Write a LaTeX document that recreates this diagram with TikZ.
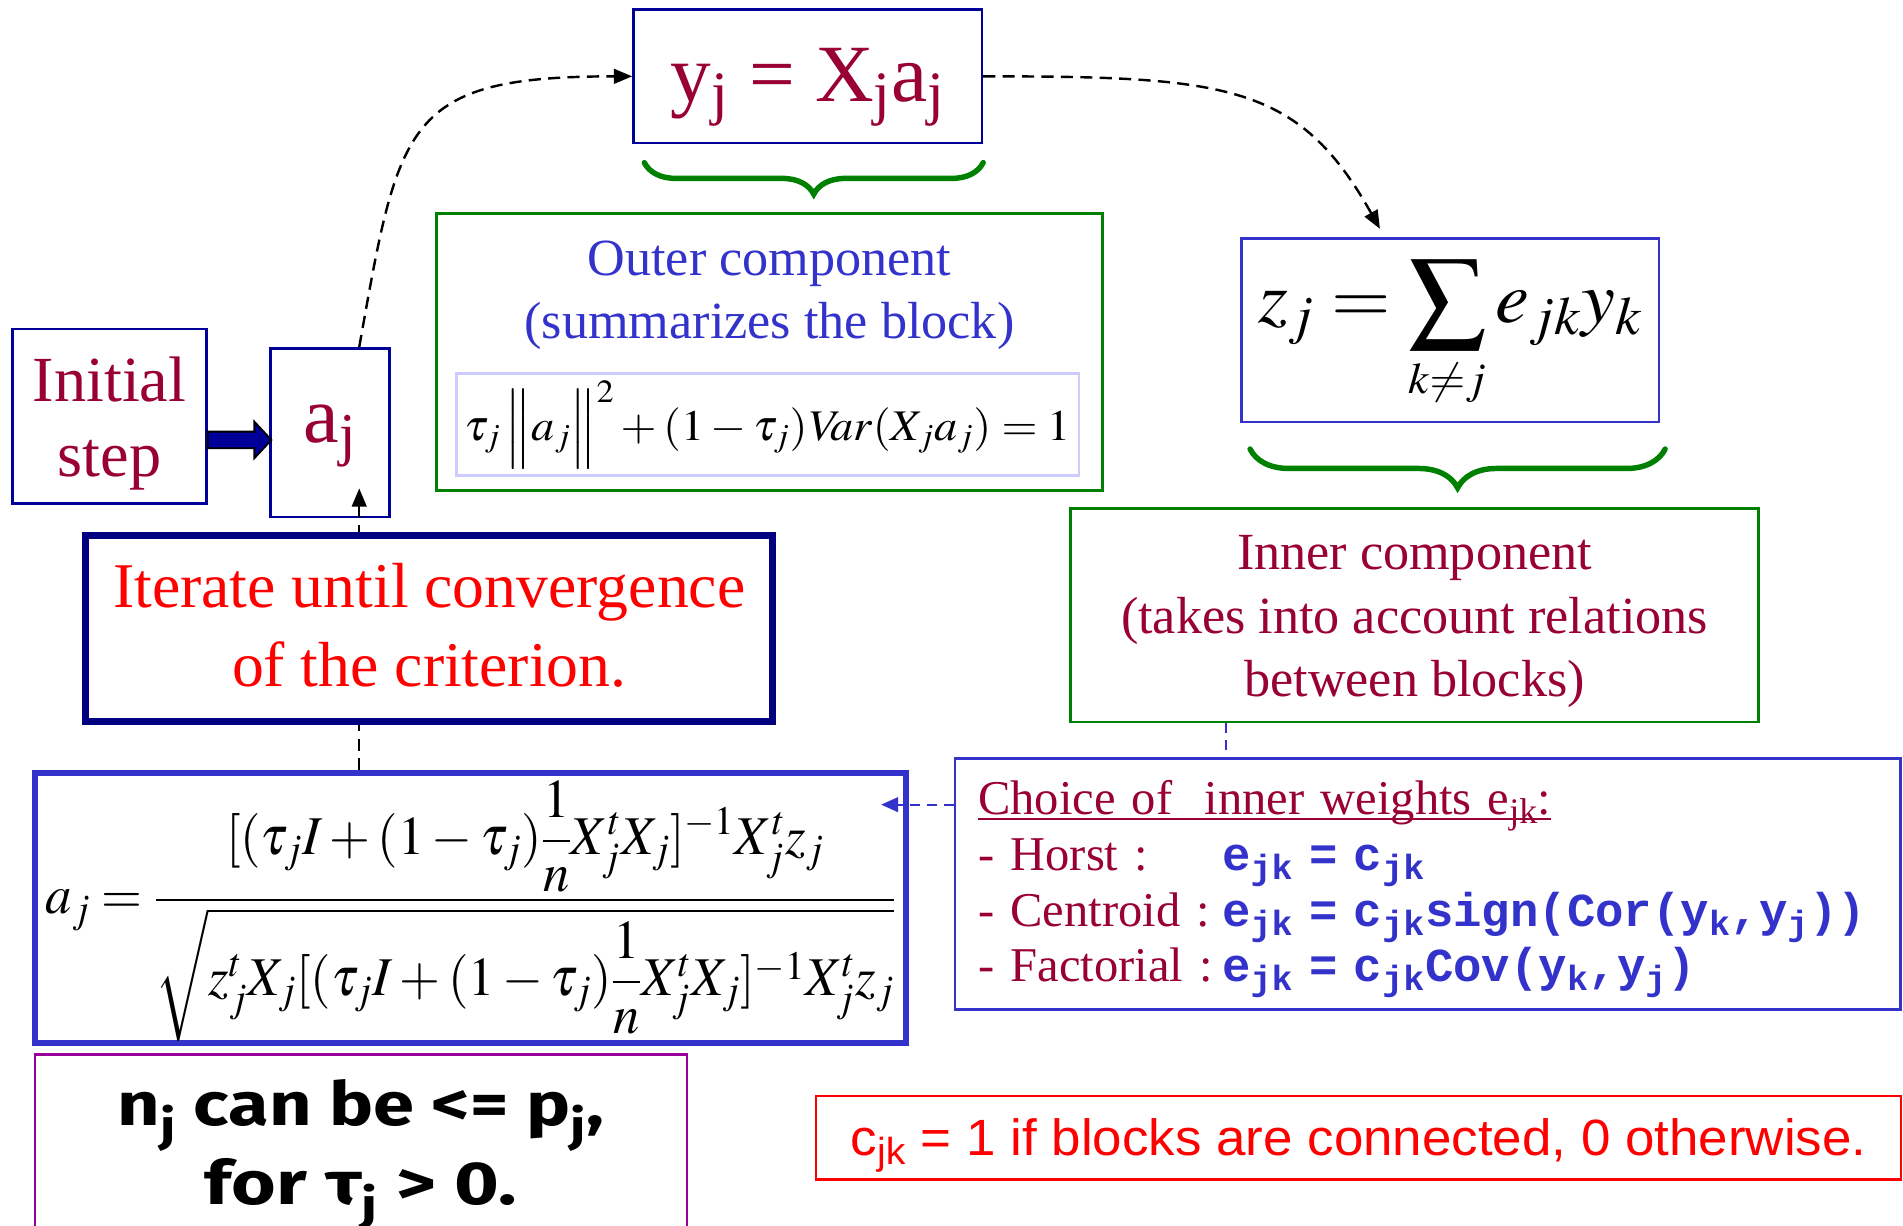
\documentclass[tikz,border=0pt]{standalone}
\usepackage{amsmath}
\usepackage{mathptmx}
\usepackage[no-math]{fontspec}
\usepackage{graphicx}
\setmainfont{Liberation Serif}
\newfontfamily\arialfont{Liberation Sans}
\newfontfamily\courierfont{Liberation Mono}
\newfontfamily\handfont{Fira Sans}
\usetikzlibrary{positioning, arrows.meta, calc, decorations.pathreplacing}

\definecolor{navybox}{HTML}{000099}
\definecolor{navythick}{HTML}{000080}
\definecolor{royal}{HTML}{3333CC}
\definecolor{leafgreen}{HTML}{008000}
\definecolor{lavender}{HTML}{CCCCFF}
\definecolor{wine}{HTML}{990033}
\definecolor{plum}{HTML}{990099}

\newcommand{\lsub}[1]{$_{\text{#1}}$}
\newcommand{\widthto}[2]{\resizebox{#1}{\height}{#2}}
\newcommand{\code}[1]{{\color{royal}\courierfont\bfseries\fontsize{39}{45.8}\selectfont #1}}
\newcommand{\redrule}[1]{\setbox0\hbox{#1}\rlap{\rule[-4pt]{\wd0}{1.4pt}}\box0}

\begin{document}
\begin{tikzpicture}[
    x=1pt, y=-1pt,
    box/.style={draw, inner sep=0pt, align=center},
    navy/.style={box, draw=navybox, line width=2.2pt},
    greenbox/.style={box, draw=leafgreen, line width=2.2pt},
    royalbox/.style={box, draw=royal, line width=2pt},
    dashlink/.style={dash pattern=on 10pt off 6pt, line width=2pt, -{Triangle[length=15pt, width=12pt]}},
    bluelink/.style={royal, dash pattern=on 8pt off 6pt, line width=1.8pt},
    curly/.style={leafgreen, line width=4.5pt, line cap=round, decorate, decoration={brace, amplitude=#1}},
    bigarrow/.style={fill=navybox, draw=black, line width=1.5pt}
]
\useasboundingbox (0,0) rectangle (1568,1010);

% --- start ---
\node[navy, minimum width=159.6pt, minimum height=144pt, text height=100pt, text depth=0pt, text=wine,
      font=\fontsize{53}{62}\selectfont] (init) at (90.2,343) {Initial\\step};
\node[navy, minimum width=98pt, minimum height=139pt, text height=37.7pt, text depth=22.3pt, text=wine,
      font=\fontsize{66}{70}\selectfont] (aj) at (272,356.5) {a\lsub{j}};

% --- outer component ---
\node[navy, minimum width=287pt, minimum height=110pt, text height=45.9pt, text depth=4.1pt, text=wine,
      font=\fontsize{67}{80}\selectfont] (yj) at (665.5,62.9) {y\lsub{j} = X\lsub{j}a\lsub{j}};
\node[greenbox, minimum width=549pt, minimum height=228pt, text height=3.7pt, text depth=26.3pt, text=royal,
      font=\fontsize{43}{52}\selectfont] (outer) at (634,290) {Outer component\\(summarizes the block)};
\node[box, draw=lavender, line width=2.2pt, minimum width=513pt, minimum height=84.4pt,
      text height=32.8pt, text depth=7.2pt, font=\fontsize{36}{40}\selectfont] (constraint) at (632.5,349.8)
  {\widthto{500pt}{$\tau_j\,\Big\|a_j\Big\|^2+(1-\tau_j)\mathit{Var}(X_ja_j)=1$}};

% --- inner component ---
\node[royalbox, minimum width=344pt, minimum height=151pt, text height=39pt, text depth=51pt,
      font=\fontsize{60}{70}\selectfont] (zj) at (1195,272)
  {\widthto{316pt}{$\displaystyle z_j=\sum_{\scriptscriptstyle k\neq j}e_{jk}y_k$}};
\node[greenbox, minimum width=567pt, minimum height=176pt, text height=134.2pt, text depth=0pt, text=wine,
      font=\fontsize{43}{52.5}\selectfont] (inner) at (1165.5,507)
  {Inner component\\(takes into account relations\\between blocks)};

% --- update of a_j ---
\node[royalbox, line width=5pt, minimum width=718pt, minimum height=222.6pt, text height=104.7pt, text depth=95.3pt,
      font=\fontsize{45}{50}\selectfont] (ajf) at (387.7,748.3)
  {\widthto{700pt}{$\displaystyle a_j=\frac{[(\tau_jI+(1-\tau_j)\dfrac{1}{n}X_j^tX_j]^{-1}X_j^tz_j}
     {\sqrt{z_j^tX_j[(\tau_jI+(1-\tau_j)\dfrac{1}{n}X_j^tX_j]^{-1}X_j^tz_j}}$}};
\node[royalbox, minimum width=779pt, minimum height=207pt, text width=741pt, align=left,
      text height=13pt, text depth=127pt, text=wine, font=\fontsize{40}{45.8}\selectfont] (choice) at (1176.5,728.4)
  {\redrule{Choice of~~inner weights e\lsub{jk}:}\\
   \makebox[201pt][l]{- Horst :}\code{e\lsub{jk} = c\lsub{jk}}\\
   \makebox[201pt][l]{- Centroid :}\code{e\lsub{jk} = c\lsub{jk}sign(Cor(y\lsub{k},y\lsub{j}))}\\
   \makebox[201pt][l]{- Factorial :}\code{e\lsub{jk} = c\lsub{jk}Cov(y\lsub{k},y\lsub{j})}};

% --- notes ---
\node[box, draw=plum, line width=2pt, minimum width=537pt, minimum height=151pt, text height=96.2pt, text depth=0pt,
      font=\handfont\bfseries\fontsize{50}{65}\selectfont] (nj) at (297.4,944.5)
  {\widthto{401pt}{n\lsub{j} can be <= p\lsub{j},}\\\widthto{257pt}{for τ\lsub{j} > 0.}};
\node[box, draw=red, line width=2pt, minimum width=894pt, minimum height=69pt, text height=34.3pt, text depth=5.7pt,
      text=red, font=\arialfont\fontsize{42}{50}\selectfont] (cjk) at (1119.5,937.5)
  {\widthto{837pt}{c\lsub{jk} = 1 if blocks are connected, 0 otherwise.}};

% --- links ---
\coordinate (upTip) at (296,402.4);
\coordinate (blueTip) at (726,663);

\draw[bigarrow] ([yshift=-19.5pt]init.east) ++(0,-6.85) -- ++(38.5,0) -- ++(0,-8.2) -- ++(14,15.05)
    -- ++(-14,15.05) -- ++(0,-8.2) -- ++(-38.5,0) -- cycle;
\draw[dashlink] (upTip |- aj.north) .. controls +(33,-185) and +(-188,0) .. (yj.west);
\draw[dashlink] (yj.east) .. controls +(201,0) and +(-67,-119.5) .. ([xshift=-58pt, yshift=7pt]zj.north);
\draw[dashlink] (upTip |- ajf.north) -- (upTip);
\draw[bluelink, -{Triangle[length=14pt, width=12pt]}] (blueTip -| choice.west) -- (blueTip);
\draw[bluelink] ([xshift=-155.5pt]inner.south) -- ([xshift=-155.5pt]inner.south |- choice.north);

% braces
\draw[curly=26pt] ([yshift=-15pt]yj.south east) -- ([xshift=10pt, yshift=-15pt]yj.south west);
\draw[curly=32pt] ([xshift=4pt, yshift=-21.5pt]zj.south east) -- ([xshift=8pt, yshift=-21.5pt]zj.south west);

% the loop box hides the link behind it
\node[box, draw=navythick, line width=6pt, fill=white, minimum width=566pt, minimum height=153pt,
      text height=95.6pt, text depth=0pt, text=red, font=\fontsize{52.5}{65}\selectfont] (iter) at (353.7,518)
  {Iterate until convergence\\of the criterion.};

\end{tikzpicture}
\end{document}
